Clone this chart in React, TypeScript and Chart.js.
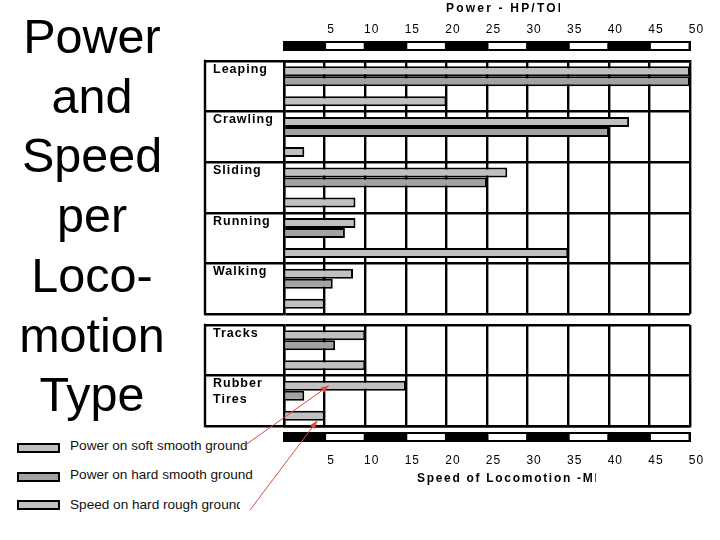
import React, { useEffect, useRef } from 'react';
import { Chart, registerables } from 'chart.js';

Chart.register(...registerables);

// ---------- data ----------
const motionTypes = ['Leaping', 'Crawling', 'Sliding', 'Running', 'Walking'];
const motionPowerSoft = [50, 42.5, 27.5, 8.8, 8.5];
const motionPowerHard = [50, 40, 25, 7.5, 6];
const motionSpeedRough = [20, 2.5, 8.8, 35, 5];

const machineTypes = ['Tracks', 'Rubber Tires'];
const machinePowerSoft = [10, 15];
const machinePowerHard = [6.3, 2.5];
const machineSpeedRough = [10, 5];

const axisMin = 0;
const axisMax = 50;
const axisStep = 5;

const legendLabels = [
  'Power on soft smooth ground',
  'Power on hard smooth ground',
  'Speed on hard rough ground',
];
const titleLines = ['Power', 'and', 'Speed', 'per', 'Loco-', 'motion', 'Type'];
const powerAxisTitle = 'Power - HP/TON';
const speedAxisTitle = 'Speed of Locomotion -MPH';

// ---------- styles ----------
const SOFT = '#c0c0c0';
const HARD = '#a2a2a2';
const SPEED = '#c0c0c0';
const FONT = '"Liberation Sans", Arial, sans-serif';
const ARROW = '#e5453d';
const GRID_W = 2.4;

function drawArrow(ctx: CanvasRenderingContext2D, x1: number, y1: number, x2: number, y2: number) {
  ctx.save();
  ctx.strokeStyle = ARROW;
  ctx.fillStyle = ARROW;
  ctx.lineWidth = 1;
  ctx.beginPath();
  ctx.moveTo(x1, y1);
  ctx.lineTo(x2, y2);
  ctx.stroke();
  const ang = Math.atan2(y2 - y1, x2 - x1);
  const L = 8;
  const W = 3.2;
  ctx.beginPath();
  ctx.moveTo(x2, y2);
  ctx.lineTo(x2 - L * Math.cos(ang) + W * Math.sin(ang), y2 - L * Math.sin(ang) - W * Math.cos(ang));
  ctx.lineTo(x2 - L * Math.cos(ang) - W * Math.sin(ang), y2 - L * Math.sin(ang) + W * Math.cos(ang));
  ctx.closePath();
  ctx.fill();
  ctx.restore();
}

function makeDecor(p: {
  title: string;
  titleX: number;
  titleY: number;
  titleSpacing: string;
  clipRight: number;
  side: 'top' | 'bottom';
  arrows: null | { a1: [number, number]; a2: [number, number] };
}) {
  return {
    id: 'panelDecor',
    beforeDraw(chart: any) {
      chart.ctx.letterSpacing = '1px';
    },
    afterDraw(chart: any) {
      const { ctx, chartArea, scales } = chart;
      const xs = scales.x;
      const ys = scales.y;
      ctx.save();
      // outer box left edge
      ctx.strokeStyle = '#000';
      ctx.lineWidth = GRID_W;
      const bx = ys.left - 8;
      ctx.beginPath();
      ctx.moveTo(bx, chartArea.top - 1.2);
      ctx.lineTo(bx, chartArea.bottom + 1.2);
      ctx.stroke();

      // black / white scale bar
      const y0 = p.side === 'top' ? chartArea.top - 20 : chartArea.bottom + 6;
      const h = 10;
      const p0 = xs.getPixelForValue(axisMin);
      const p1 = xs.getPixelForValue(axisMax);
      ctx.fillStyle = '#000';
      ctx.fillRect(p0 - 1, y0, p1 - p0 + 2, h);
      ctx.fillStyle = '#fff';
      for (let v = axisMin + axisStep; v < axisMax; v += 2 * axisStep) {
        const a = xs.getPixelForValue(v);
        const b = xs.getPixelForValue(v + axisStep);
        ctx.fillRect(a + 1.5, y0 + 2, b - a - 3, h - 4);
      }

      // axis title (clipped like the original)
      ctx.save();
      ctx.beginPath();
      ctx.rect(0, 0, p.clipRight, chart.height);
      ctx.clip();
      ctx.letterSpacing = p.titleSpacing;
      ctx.font = `bold 12px ${FONT}`;
      ctx.fillStyle = '#000';
      ctx.textBaseline = 'middle';
      ctx.textAlign = 'left';
      ctx.fillText(p.title, p.titleX, p.titleY);
      ctx.restore();

      if (p.arrows) {
        const softBar = chart.getDatasetMeta(0).data[1];
        const speedBar = chart.getDatasetMeta(3).data[1];
        drawArrow(ctx, p.arrows.a1[0], p.arrows.a1[1], xs.getPixelForValue(5.5), softBar.y);
        drawArrow(ctx, p.arrows.a2[0], p.arrows.a2[1], xs.getPixelForValue(4.1), speedBar.y + speedBar.height / 2);
      }
      ctx.restore();
    },
  };
}

function buildConfig(p: {
  labels: string[];
  soft: number[];
  hard: number[];
  speed: number[];
  side: 'top' | 'bottom';
  padTop: number;
  padBottom: number;
  axisHeight: number;
  tickPadding: number;
  labelOffset: number;
  twoLine: boolean;
  title: string;
  titleX: number;
  titleY: number;
  titleSpacing: string;
  clipRight: number;
  arrows: null | { a1: [number, number]; a2: [number, number] };
}): any {
  const datasets = [
    { label: legendLabels[0], data: p.soft, backgroundColor: SOFT },
    { label: legendLabels[1], data: p.hard, backgroundColor: HARD },
    { label: 'spacer', data: p.soft.map(() => null), backgroundColor: 'rgba(0,0,0,0)' },
    { label: legendLabels[2], data: p.speed, backgroundColor: SPEED },
  ];
  return {
    type: 'bar',
    data: { labels: p.labels, datasets },
    options: {
      indexAxis: 'y',
      responsive: false,
      animation: false,
      layout: { padding: { left: 213, right: 36, top: p.padTop, bottom: p.padBottom } },
      plugins: { legend: { display: false }, tooltip: { enabled: false } },
      datasets: {
        bar: {
          categoryPercentage: 0.79,
          barPercentage: 1,
          borderColor: '#000',
          borderWidth: 2,
        },
      },
      scales: {
        x: {
          type: 'linear',
          position: p.side,
          min: axisMin,
          max: axisMax,
          afterFit: (s: any) => {
            s.height = p.axisHeight;
          },
          ticks: {
            stepSize: axisStep,
            autoSkip: false,
            maxRotation: 0,
            labelOffset: 6.5,
            padding: p.tickPadding,
            color: '#000',
            font: { family: FONT, size: 12 },
            callback: (v: any) => (v === axisMin ? '' : String(v)),
          },
          grid: { color: '#000', lineWidth: GRID_W, drawTicks: false },
          border: { display: true, color: '#000', width: GRID_W },
        },
        y: {
          type: 'category',
          offset: true,
          afterFit: (s: any) => {
            s.width = 71;
          },
          grid: { offset: true, color: '#000', lineWidth: GRID_W, drawTicks: true, tickLength: 79 },
          border: { display: true, color: '#000', width: GRID_W },
          ticks: {
            crossAlign: 'far',
            autoSkip: false,
            padding: 0,
            labelOffset: p.labelOffset,
            color: '#000',
            font: { family: FONT, size: 12.5, weight: 'bold', lineHeight: '15.5px' },
            callback: function (this: any, v: any) {
              const label = String(this.getLabelForValue(v));
              if (!p.twoLine) return label;
              const parts = label.split(' ');
              while (parts.length < 2) parts.push('');
              return parts;
            },
          },
        },
      },
    },
    plugins: [
      makeDecor({
        title: p.title,
        titleX: p.titleX,
        titleY: p.titleY,
        titleSpacing: p.titleSpacing,
        clipRight: p.clipRight,
        side: p.side,
        arrows: p.arrows,
      }),
    ],
  };
}

const TOP_H = 324;
const BOT_TOP = 305;
const BOT_H = 540 - BOT_TOP;
const CANVAS_W = 726;

export default function App() {
  const topRef = useRef<HTMLCanvasElement>(null);
  const botRef = useRef<HTMLCanvasElement>(null);

  useEffect(() => {
    const top = new Chart(
      topRef.current as HTMLCanvasElement,
      buildConfig({
        labels: motionTypes,
        soft: motionPowerSoft,
        hard: motionPowerHard,
        speed: motionSpeedRough,
        side: 'top',
        padTop: 0,
        padBottom: TOP_H - 314,
        axisHeight: 61,
        tickPadding: 24,
        labelOffset: -17,
        twoLine: false,
        title: powerAxisTitle,
        titleX: 446,
        titleY: 8.5,
        titleSpacing: '2.2px',
        clipRight: 560,
        arrows: null,
      })
    );
    const bottom = new Chart(
      botRef.current as HTMLCanvasElement,
      buildConfig({
        labels: machineTypes,
        soft: machinePowerSoft,
        hard: machinePowerHard,
        speed: machineSpeedRough,
        side: 'bottom',
        padTop: 325 - BOT_TOP,
        padBottom: 0,
        axisHeight: 540 - 426,
        tickPadding: 27,
        labelOffset: -9.25,
        twoLine: true,
        title: speedAxisTitle,
        titleX: 417,
        titleY: 479 - BOT_TOP,
        titleSpacing: '1.7px',
        clipRight: 596,
        arrows: { a1: [244, 446 - BOT_TOP], a2: [250, 510 - BOT_TOP] },
      })
    );
    return () => {
      top.destroy();
      bottom.destroy();
    };
  }, []);

  const swatchColors = [SOFT, HARD, SPEED];
  const swatchTops = [443, 472, 500];
  const textCenters = [446, 475, 505];

  return (
    <div style={{ position: 'absolute', left: 0, top: 0, width: 720, height: 540, background: '#fff', overflow: 'hidden' }}>
      <div
        style={{
          position: 'absolute',
          left: 0,
          top: 7,
          width: 184,
          textAlign: 'center',
          fontFamily: FONT,
          fontSize: 48.5,
          lineHeight: '59.7px',
          color: '#000',
        }}
      >
        {titleLines.map((t, i) => (
          <div key={i}>{t}</div>
        ))}
      </div>
      {legendLabels.map((t, i) => (
        <React.Fragment key={i}>
          <div
            style={{
              position: 'absolute',
              left: 17,
              top: swatchTops[i],
              width: 43,
              height: 10,
              boxSizing: 'border-box',
              border: '2px solid #000',
              background: swatchColors[i],
            }}
          />
          <div
            style={{
              position: 'absolute',
              left: 70,
              top: textCenters[i] - 8,
              width: i === 2 ? 170 : 200,
              height: 16,
              overflow: 'hidden',
              whiteSpace: 'nowrap',
              fontFamily: FONT,
              fontSize: 13.6,
              lineHeight: '16px',
              color: '#111',
            }}
          >
            {t}
          </div>
        </React.Fragment>
      ))}
      <canvas
        ref={topRef}
        width={CANVAS_W}
        height={TOP_H}
        style={{ position: 'absolute', left: 0, top: 0, width: CANVAS_W, height: TOP_H }}
      />
      <canvas
        ref={botRef}
        width={CANVAS_W}
        height={BOT_H}
        style={{ position: 'absolute', left: 0, top: BOT_TOP, width: CANVAS_W, height: BOT_H }}
      />
    </div>
  );
}
